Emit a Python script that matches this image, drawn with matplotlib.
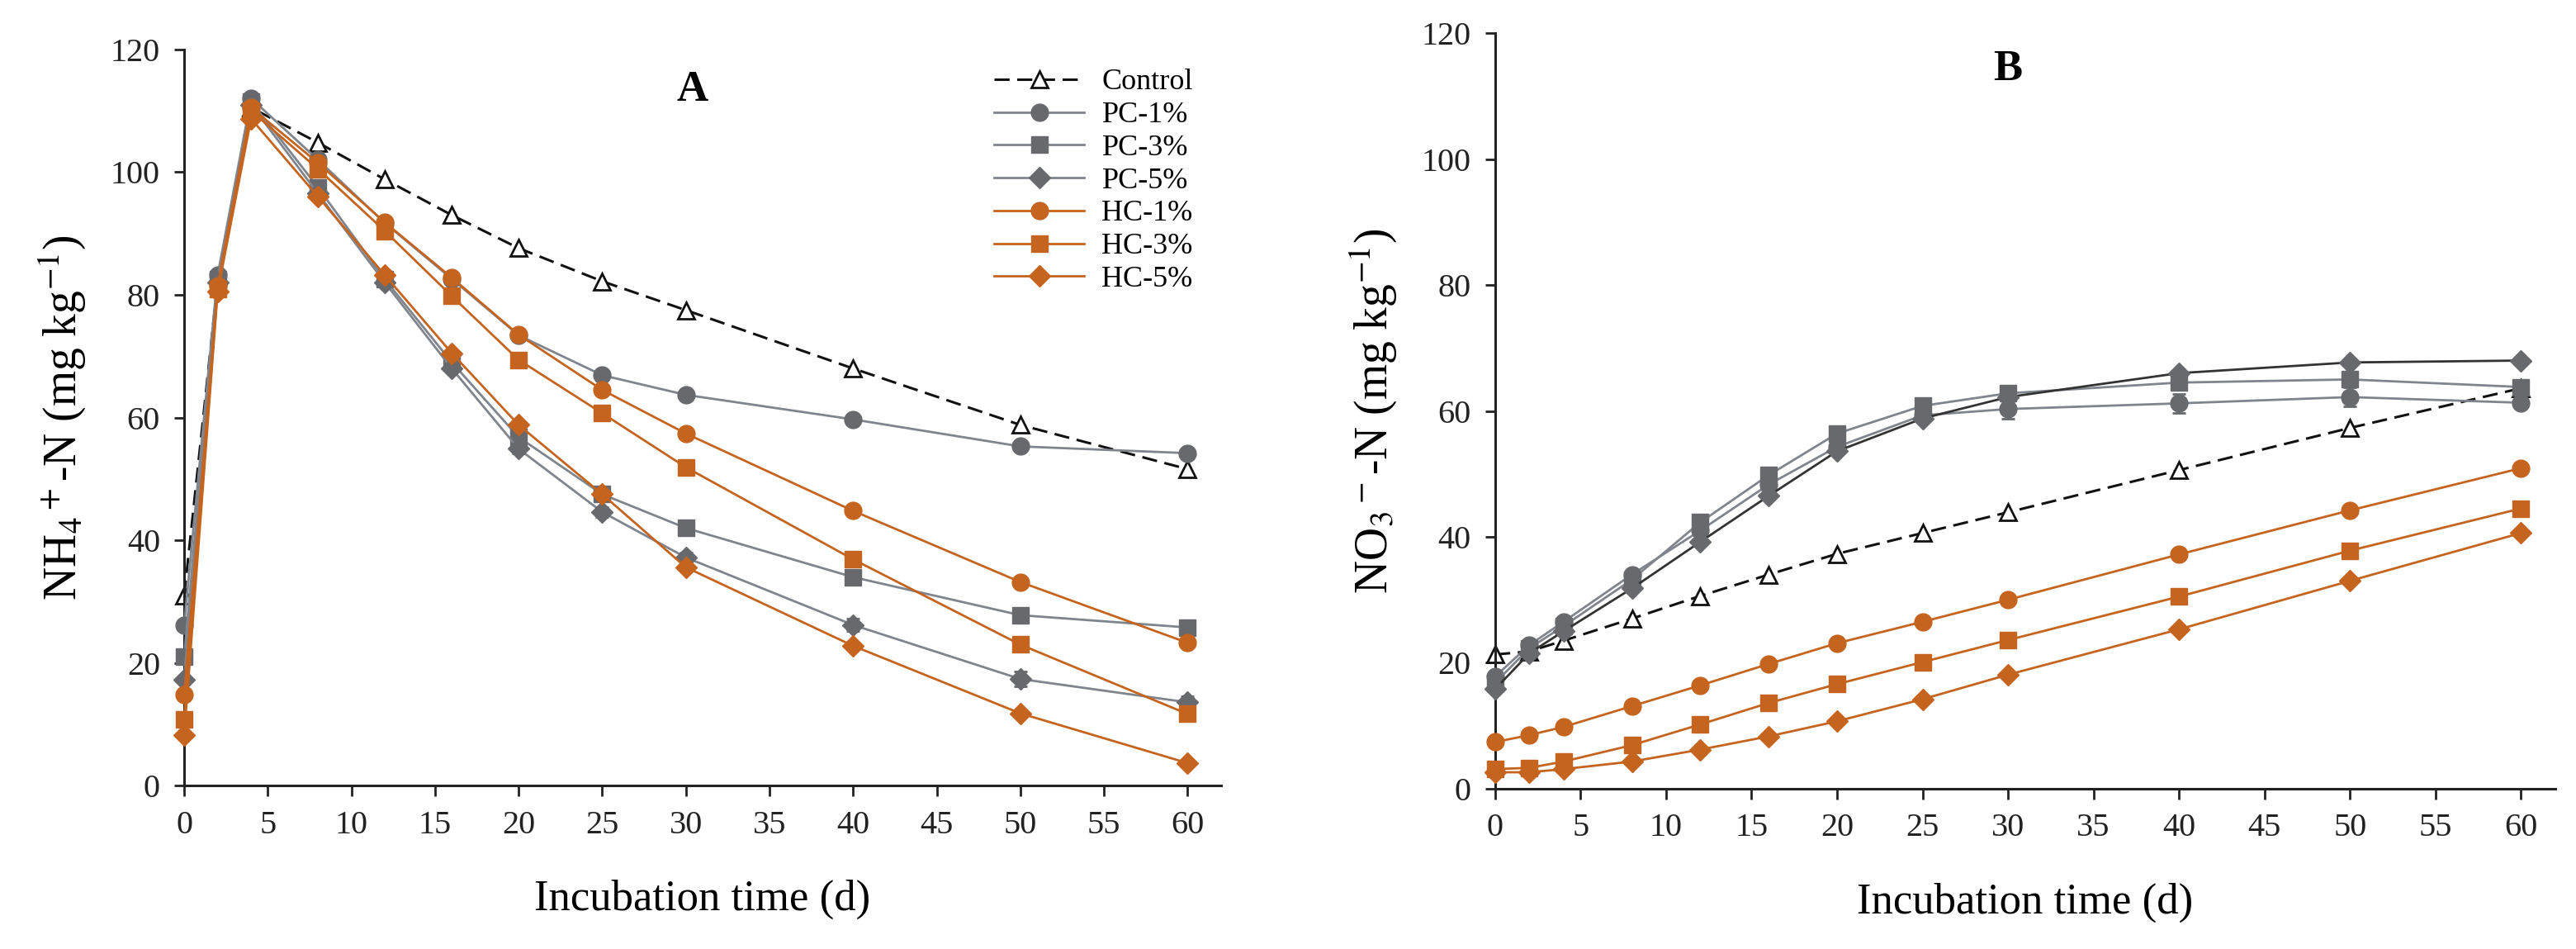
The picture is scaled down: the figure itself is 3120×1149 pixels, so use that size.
import numpy as np
import matplotlib
matplotlib.use("Agg")
import matplotlib.pyplot as plt

plt.rcParams['font.family'] = ['Liberation Serif', 'DejaVu Serif']
plt.rcParams['mathtext.fontset'] = 'stix'

# incubation days
days = [0, 2, 4, 8, 12, 16, 20, 25, 30, 40, 50, 60]

# panel A: NH4+-N (mg/kg)
nh4_control = [31, 82, 110.5, 104.8, 98.8, 93, 87.6, 82.2, 77.5, 68, 58.8, 51.6]
nh4_pc1 = [26.2, 83.2, 112, 102, 91.7, 82.6, 73.4, 66.9, 63.7, 59.7, 55.3, 54.2]
nh4_pc3 = [21, 82.5, 111.5, 97.5, 82.5, 69, 56.8, 47.5, 42, 34, 27.8, 25.8]
nh4_pc5 = [17.3, 82, 111, 96.5, 82, 68, 54.9, 44.6, 37.2, 26.2, 17.4, 13.6]
nh4_hc1 = [14.8, 81.5, 110.5, 101.5, 91.8, 82.8, 73.5, 64.5, 57.4, 44.8, 33.2, 23.3]
nh4_hc3 = [10.8, 81, 110, 100.5, 90.4, 79.8, 69.4, 60.7, 51.9, 36.9, 23, 11.7]
nh4_hc5 = [8.2, 80.5, 108.7, 96, 83.2, 70.5, 58.8, 47.5, 35.6, 22.8, 11.8, 3.7]
nh4_pc5_err = [0, 0, 0, 0, 0, 0, 0.8, 0.8, 0.8, 1.0, 1.2, 1.0]

# panel B: NO3--N (mg/kg)
no3_control = [21.3, 21.8, 23.5, 27, 30.6, 34, 37.3, 40.6, 43.9, 50.6, 57.3, 63.6]
no3_pc1 = [17.8, 22.8, 26.5, 34, 41, 48.3, 54.3, 59.3, 60.3, 61.2, 62.2, 61.3]
no3_pc3 = [16.8, 22.3, 25.8, 33.2, 42.3, 49.8, 56.4, 60.8, 62.8, 64.5, 65, 63.8]
no3_pc5 = [15.8, 21.5, 25, 31.8, 39.2, 46.5, 53.6, 58.8, 62.2, 66, 67.7, 68]
no3_hc1 = [7.4, 8.5, 9.8, 13.1, 16.4, 19.8, 23.1, 26.5, 30, 37.2, 44.2, 50.9]
no3_hc3 = [3.1, 3.3, 4.3, 6.9, 10.2, 13.6, 16.6, 20.1, 23.6, 30.5, 37.8, 44.5]
no3_hc5 = [2.6, 2.6, 3.1, 4.3, 6.2, 8.3, 10.7, 14.2, 18.1, 25.3, 33, 40.6]
no3_pc1_err = [0, 0, 0, 0, 0, 0, 0, 0, 1.5, 1.5, 1.5, 0.8]

labels = ['Control', 'PC-1%', 'PC-3%', 'PC-5%', 'HC-1%', 'HC-3%', 'HC-5%']
xticks = list(range(0, 65, 5))
yticks = list(range(0, 140, 20))

grey_m = '#68696d'
grey_l = '#80858d'
orange = '#c4641f'
ms = 14

fig = plt.figure(figsize=(31.2, 11.49), dpi=100)
axA = fig.add_axes([0.0715, 0.172, 0.4025, 0.776])
axB = fig.add_axes([0.5804, 0.169, 0.4115, 0.796])


def style_axis(ax):
    ax.set_xlim(0, 62)
    ax.set_ylim(0, 120)
    ax.set_xticks(xticks)
    ax.set_yticks(yticks)
    ax.spines['top'].set_visible(False)
    ax.spines['right'].set_visible(False)
    for s in ['left', 'bottom']:
        ax.spines[s].set_linewidth(2.2)
        ax.spines[s].set_color('#222222')
    ax.tick_params(direction='out', length=9, width=2, labelsize=29, pad=12, colors='#222222')
    ax.set_xlabel('Incubation time (d)', fontsize=38, labelpad=34)


def draw(ax, ctrl, pc, hc, pc_line_colors, err_idx=None, err=None):
    # control sits under the treatment markers, as in the original
    ax.plot(days, ctrl, ls=(0, (6, 3)), color='#111111', lw=2.2, marker='^',
            ms=ms, mfc='white', mec='#111111', mew=2, label=labels[0], clip_on=False, zorder=2)
    mk = ['o', 's', 'D']
    sizes = [ms + 1, ms, ms - 1]
    for i in range(3):
        if err_idx == i:
            ax.errorbar(days, pc[i], yerr=err, fmt='none', ecolor=grey_m, elinewidth=2,
                        capsize=6, capthick=2, zorder=3)
        ax.plot(days, pc[i], color=pc_line_colors[i], lw=2, marker=mk[i], ms=sizes[i],
                mfc=grey_m, mec=grey_m, label=labels[1 + i], clip_on=False, zorder=3)
    for i in range(3):
        ax.plot(days, hc[i], color=orange, lw=2, marker=mk[i], ms=sizes[i],
                mfc=orange, mec=orange, label=labels[4 + i], clip_on=False, zorder=4)
    style_axis(ax)


draw(axA, nh4_control, [nh4_pc1, nh4_pc3, nh4_pc5], [nh4_hc1, nh4_hc3, nh4_hc5],
     [grey_l, grey_l, grey_l], err_idx=2, err=nh4_pc5_err)
draw(axB, no3_control, [no3_pc1, no3_pc3, no3_pc5], [no3_hc1, no3_hc3, no3_hc5],
     [grey_l, grey_l, '#333333'], err_idx=0, err=no3_pc1_err)

axA.set_ylabel('NH$_4$$^+$-N (mg kg$^{-1}$)', fontsize=40, labelpad=20)
axB.set_ylabel('NO$_3$$^-$-N (mg kg$^{-1}$)', fontsize=40, labelpad=20)

axA.text(0.49, 0.945, 'A', transform=axA.transAxes, fontsize=38, fontweight='bold',
         ha='center', va='center')
axB.text(0.484, 0.952, 'B', transform=axB.transAxes, fontsize=38, fontweight='bold',
         ha='center', va='center')

axA.legend(loc='upper left', bbox_to_anchor=(0.77, 0.99), frameon=False, fontsize=26,
           handlelength=3.0, handletextpad=0.6, labelspacing=0.18, borderaxespad=0)

fig.savefig('out.png', dpi=100)
